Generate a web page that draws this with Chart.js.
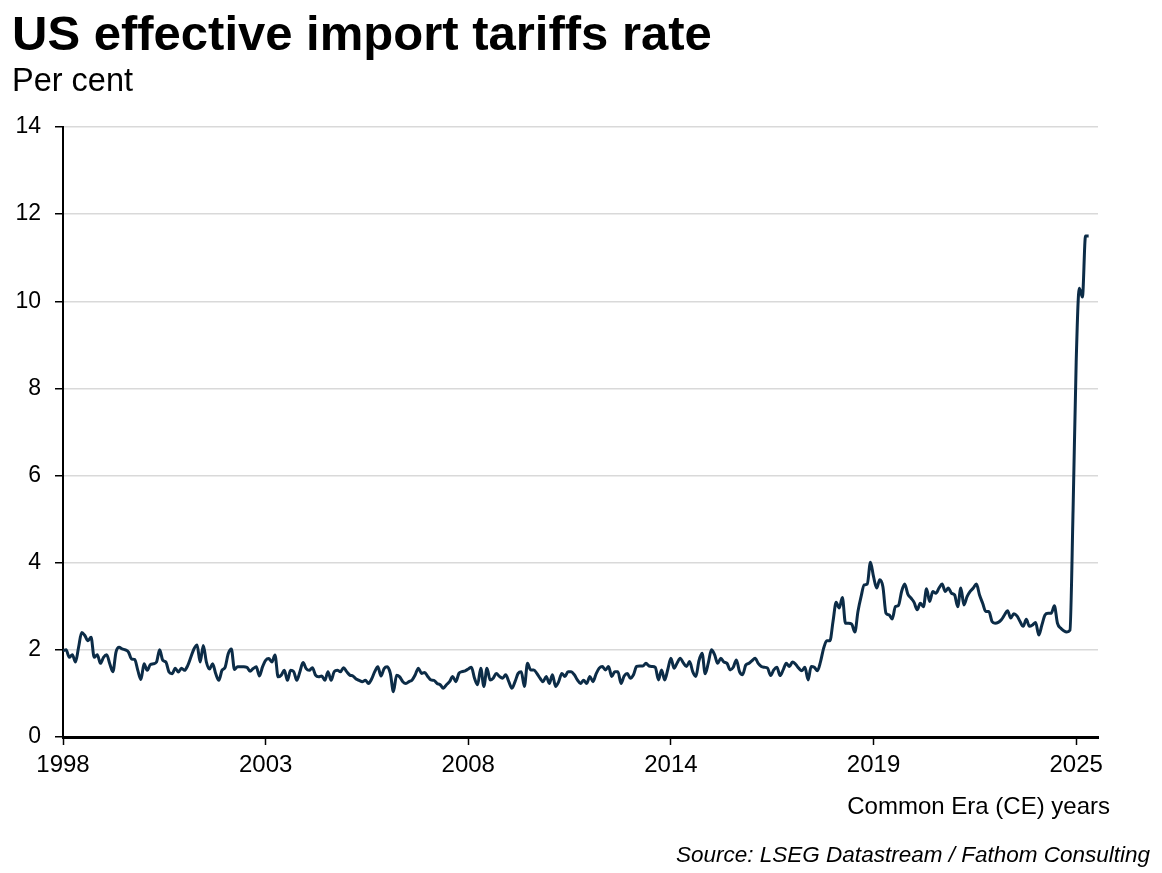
<!DOCTYPE html>
<html>
<head>
<meta charset="utf-8">
<script src="https://cdn.jsdelivr.net/npm/chart.js@4.4.1/dist/chart.umd.min.js"></script>
<style>
  html, body { margin: 0; padding: 0; background: #fff; }
  #wrap { width: 1162px; height: 873px; }
</style>
</head>
<body>
<div id="wrap"><canvas id="chart" width="1162" height="873"></canvas></div>
<script>
const title = "US effective import tariffs rate";
const subtitle = "Per cent";
const xTitle = "Common Era (CE) years";
const source = "Source: LSEG Datastream / Fathom Consulting";

// labelled ticks, one every 65 months from the first observation
const tickYears = [1998, 2003, 2008, 2014, 2019, 2025];
const monthsPerTick = 65;

// monthly effective tariff rate, per cent
const tariffRate = [
  1.98, 2.0, 1.83, 1.89, 1.72, 2.06, 2.4, 2.33, 2.21, 2.29,
  1.83, 1.89, 1.69, 1.83, 1.89, 1.68, 1.5, 1.95, 2.06, 2.02,
  2.0, 1.95, 1.79, 1.78, 1.53, 1.32, 1.68, 1.53, 1.66, 1.68,
  1.72, 2.0, 1.76, 1.72, 1.49, 1.45, 1.58, 1.49, 1.58, 1.53,
  1.64, 1.83, 2.02, 2.11, 1.72, 2.1, 1.72, 1.56, 1.68, 1.45,
  1.3, 1.53, 1.6, 1.91, 2.02,
  1.55, 1.61, 1.61, 1.61, 1.6, 1.51, 1.57, 1.61, 1.4, 1.61,
  1.76, 1.8, 1.72, 1.88, 1.38, 1.42, 1.53, 1.3, 1.53, 1.5,
  1.3, 1.5, 1.71, 1.57, 1.53, 1.59, 1.42, 1.38, 1.4, 1.3,
  1.5, 1.3, 1.5, 1.53, 1.5, 1.59, 1.5, 1.42, 1.4, 1.33,
  1.3, 1.27, 1.3, 1.23, 1.33, 1.5, 1.61, 1.4, 1.57, 1.61,
  1.46, 1.04, 1.42, 1.38, 1.27, 1.23, 1.27,
  1.31, 1.43, 1.58, 1.46, 1.48, 1.39, 1.31, 1.3, 1.23, 1.2,
  1.12, 1.2, 1.27, 1.39, 1.27, 1.46, 1.5, 1.52, 1.56, 1.6,
  1.35, 1.2, 1.58, 1.16, 1.58, 1.31, 1.35, 1.46, 1.39, 1.35,
  1.43, 1.27, 1.12, 1.27, 1.46, 1.5, 1.16, 1.69, 1.54, 1.54,
  1.46, 1.35, 1.27, 1.39, 1.23, 1.43, 1.16, 1.27, 1.46, 1.39,
  1.5, 1.5, 1.43, 1.31,
  1.23, 1.3, 1.23, 1.39, 1.27, 1.45, 1.58, 1.62, 1.54, 1.62,
  1.39, 1.5, 1.5, 1.23, 1.4, 1.46, 1.35, 1.43, 1.62, 1.63,
  1.63, 1.69, 1.63, 1.62, 1.6, 1.31, 1.54, 1.31, 1.55, 1.81,
  1.58, 1.7, 1.81, 1.7, 1.62, 1.73, 1.5, 1.39, 1.75, 1.92,
  1.45, 1.7, 2.0, 1.89, 1.69, 1.81, 1.72, 1.69, 1.54, 1.6,
  1.77, 1.5, 1.43, 1.65, 1.69, 1.75,
  1.81, 1.69, 1.62, 1.6, 1.58, 1.41, 1.54, 1.6, 1.41, 1.54,
  1.69, 1.62, 1.72, 1.67, 1.58, 1.52, 1.6, 1.31, 1.62, 1.6,
  1.52, 1.73, 2.04, 2.21, 2.21, 2.65, 3.09, 2.96, 3.2, 2.61,
  2.61, 2.59, 2.41, 2.88, 3.22, 3.49, 3.51, 4.01, 3.68, 3.42,
  3.61, 3.45, 2.84, 2.8, 2.71, 2.99, 3.02, 3.34, 3.51, 3.28,
  3.19, 3.09, 2.92, 3.07, 2.99, 3.4,
  3.11, 3.34, 3.3, 3.42, 3.51, 3.34, 3.42, 3.3, 3.26, 2.99,
  3.42, 3.03, 3.22, 3.34, 3.42, 3.51, 3.26, 3.07, 2.88, 2.88,
  2.65, 2.61, 2.63, 2.69, 2.8, 2.9, 2.73, 2.83, 2.78, 2.65,
  2.54, 2.7, 2.54, 2.57, 2.63, 2.34, 2.57, 2.8, 2.84, 2.84,
  3.01, 2.61, 2.5, 2.44, 2.41, 2.45,
  5.2, 8.6, 10.3, 10.1, 11.5, 11.5,
];

const FONT = "'Liberation Sans', Arial, Helvetica, sans-serif";

const texts = {
  id: "texts",
  afterDraw(chart) {
    const ctx = chart.ctx;
    ctx.save();
    ctx.fillStyle = "#000";
    ctx.textBaseline = "alphabetic";
    ctx.textAlign = "left";
    ctx.font = "bold 49px " + FONT;
    ctx.fillText(title, 12, 50);
    ctx.font = "32.5px " + FONT;
    ctx.fillText(subtitle, 12, 91);
    ctx.textAlign = "right";
    ctx.font = "24px " + FONT;
    ctx.fillText(xTitle, 1110, 814);
    ctx.font = "italic 22.5px " + FONT;
    ctx.fillText(source, 1150, 862);
    ctx.restore();
  },
};

new Chart(document.getElementById("chart"), {
  type: "line",
  data: {
    datasets: [
      {
        label: "Effective tariff rate",
        data: tariffRate.map((v, i) => ({ x: i, y: v })),
        borderColor: "#0c2c47",
        borderWidth: 3,
        pointRadius: 0,
        cubicInterpolationMode: "monotone",
        fill: false,
      },
    ],
  },
  options: {
    responsive: false,
    animation: false,
    devicePixelRatio: 1,
    layout: { padding: { top: 127, right: 64, bottom: 0, left: 0 } },
    plugins: {
      legend: { display: false },
      tooltip: { enabled: false },
    },
    scales: {
      x: {
        type: "linear",
        min: 0,
        max: 332,
        afterBuildTicks: (scale) => {
          scale.ticks = tickYears.map((y, i) => ({ value: i * monthsPerTick }));
        },
        afterFit: (scale) => {
          scale.height = 136;
        },
        grid: {
          drawOnChartArea: false,
          drawTicks: true,
          tickLength: 8,
          tickColor: "#000",
          tickWidth: 1.5,
        },
        border: { display: true, color: "#000", width: 3 },
        ticks: {
          autoSkip: false,
          maxRotation: 0,
          padding: 6,
          color: "#000",
          font: { family: FONT, size: 24 },
          callback: (value, i) => tickYears[i],
        },
      },
      y: {
        type: "linear",
        min: 0,
        max: 14,
        afterFit: (scale) => {
          scale.width = 63;
        },
        grid: {
          color: "#d9d9d9",
          lineWidth: 1.5,
          drawTicks: true,
          tickLength: 8,
          tickColor: "#000",
          tickWidth: 1.5,
        },
        border: { display: true, color: "#000", width: 2 },
        ticks: {
          stepSize: 2,
          padding: 14,
          color: "#000",
          font: { family: FONT, size: 23 },
        },
      },
    },
  },
  plugins: [texts],
});
</script>
</body>
</html>
